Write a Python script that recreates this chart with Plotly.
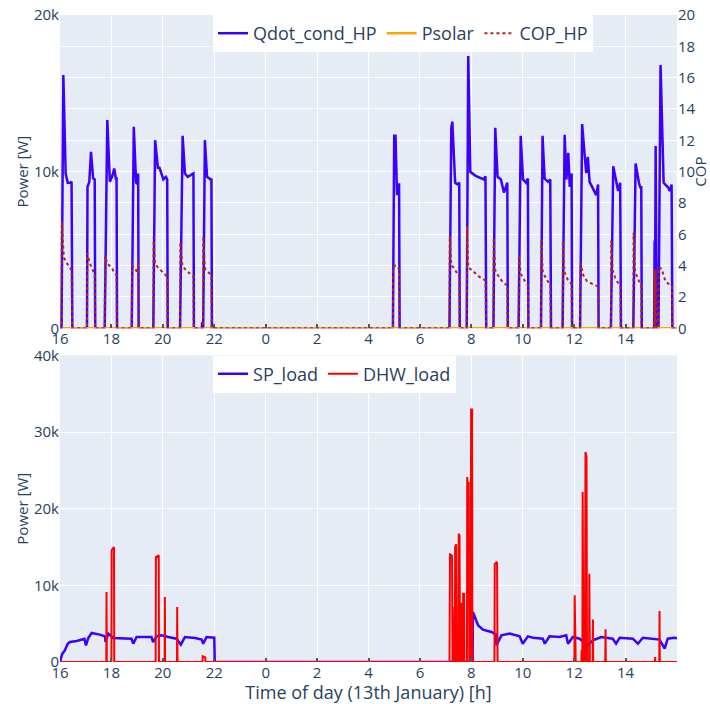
import plotly.graph_objects as go
from plotly.subplots import make_subplots

# ---------------- data (hours since 0:00 of 12th; 24+ = next day) ----------------
tick_hours = [16, 18, 20, 22, 24, 26, 28, 30, 32, 34, 36, 38]
tick_labels = ["16", "18", "20", "22", "0", "2", "4", "6", "8", "10", "12", "14"]

qdot_t = [16.0, 16.06, 16.13, 16.22, 16.30, 16.40, 16.45, 16.48,
          17.05, 17.07, 17.14, 17.205, 17.29, 17.35, 17.37,
          17.74, 17.84, 17.94, 18.03, 18.11, 18.17, 18.20, 18.22,
          18.79, 18.87, 18.96, 19.02, 19.04, 19.06,
          19.63, 19.70, 19.81, 19.86, 20.02, 20.12, 20.17, 20.19,
          20.67, 20.77, 20.86, 20.97, 21.15, 21.19, 21.21,
          21.52, 21.53, 21.55, 21.57, 21.635, 21.72, 21.86, 21.89, 21.91,
          28.95, 29.00, 29.05, 29.11, 29.16, 29.19, 29.21,
          31.15, 31.22, 31.26, 31.37, 31.45, 31.50, 31.53, 31.55,
          31.82, 31.88, 31.96, 32.15, 32.30, 32.48, 32.55, 32.58,
          32.86, 32.93, 33.02, 33.15, 33.27, 33.38, 33.40, 33.42,
          33.84, 33.92, 34.01, 34.13, 34.20, 34.22,
          34.71, 34.77, 34.85, 34.98, 35.07, 35.10,
          35.55, 35.63, 35.70, 35.77, 35.83, 35.90, 35.92,
          36.23, 36.31, 36.40, 36.47, 36.53, 36.60, 36.86, 36.93, 36.95,
          37.43, 37.52, 37.66, 37.71, 37.79, 37.82,
          38.30, 38.39, 38.52, 38.57, 38.61, 38.63,
          39.11, 39.13, 39.14, 39.17, 39.21, 39.28, 39.36, 39.48, 39.65, 39.72, 39.79, 39.82, 40.0]
qdot_w = [0, 0, 16170, 9880, 9290, 9290, 9350, 0,
          0, 9030, 9350, 11270, 9560, 9500, 0,
          0, 13290, 9350, 9700, 10200, 9560, 9560, 0,
          0, 12860, 9290, 9200, 9880, 0,
          0, 12010, 10200, 10300, 9500, 9670, 9500, 0,
          0, 12290, 9880, 9670, 9880, 9880, 0,
          0, 400, 0, 0, 12010, 9670, 9500, 9500, 0,
          0, 12290, 12290, 8500, 9180, 9180, 0,
          0, 12800, 13190, 9290, 9200, 9290, 9290, 0,
          0, 17380, 9990, 9750, 9650, 9500, 9700, 0,
          0, 12800, 9670, 9500, 8660, 9290, 9290, 0,
          0, 12290, 9500, 9290, 9560, 0,
          0, 12290, 9560, 9350, 9500, 0,
          0, 12350, 9500, 11200, 9030, 9880, 0,
          0, 13040, 11200, 9900, 10950, 9350, 8500, 9180, 0,
          0, 10350, 9030, 8770, 9290, 0,
          0, 10520, 9290, 9000, 9000, 0,
          0, 5600, 0, 11630, 0, 0, 16810, 9290, 9000, 8770, 9180, 0, 0]

psolar_t = [16.0, 40.0]
psolar_w = [0, 0]

cop_t = [16.0, 16.06, 16.07, 16.15, 16.25, 16.45, 16.47,
         17.05, 17.06, 17.15, 17.35, 17.36,
         17.74, 17.75, 17.85, 18.00, 18.10, 18.20, 18.21,
         18.79, 18.80, 18.90, 19.02, 19.04, 19.05,
         19.63, 19.64, 19.70, 19.80, 20.00, 20.17, 20.18,
         20.67, 20.68, 20.76, 20.90, 21.10, 21.19, 21.20,
         21.56, 21.57, 21.64, 21.75, 21.89, 21.90,
         28.95, 28.96, 29.05, 29.19, 29.20,
         31.15, 31.16, 31.22, 31.30, 31.45, 31.53, 31.54,
         31.82, 31.83, 31.88, 32.10, 32.30, 32.55, 32.57,
         32.86, 32.87, 32.93, 33.10, 33.25, 33.40, 33.41,
         33.84, 33.85, 33.92, 34.05, 34.20, 34.21,
         34.71, 34.72, 34.78, 34.90, 35.07, 35.09,
         35.55, 35.56, 35.62, 35.75, 35.90, 35.91,
         36.23, 36.24, 36.35, 36.50, 36.70, 36.94, 36.95,
         37.43, 37.44, 37.50, 37.60, 37.80, 37.81,
         38.30, 38.31, 38.37, 38.45, 38.61, 38.62,
         39.11, 39.12, 39.14, 39.17, 39.21, 39.28, 39.29, 39.40, 39.55, 39.81, 39.82, 40.0]
cop_v = [0, 0, 6.8, 4.5, 4.2, 3.7, 0,
         0, 4.8, 4.2, 3.4, 0,
         0, 4.6, 4.1, 3.9, 3.6, 3.4, 0,
         0, 4.0, 3.9, 3.5, 4.4, 0,
         0, 5.8, 4.1, 3.9, 3.6, 3.3, 0,
         0, 5.5, 4.0, 3.7, 3.4, 3.3, 0,
         0, 5.9, 3.8, 3.6, 3.4, 0,
         0, 3.9, 4.0, 3.8, 0,
         0, 5.9, 4.0, 3.9, 3.5, 3.3, 0,
         0, 6.5, 3.9, 3.6, 3.3, 3.05, 0,
         0, 5.8, 3.7, 3.2, 2.9, 2.75, 0,
         0, 4.7, 3.5, 3.1, 2.75, 0,
         0, 5.6, 3.6, 3.2, 2.75, 0,
         0, 5.6, 3.6, 3.1, 2.8, 0,
         0, 4.2, 3.4, 3.0, 2.85, 2.65, 0,
         0, 5.6, 3.7, 3.2, 2.65, 0,
         0, 6.1, 3.6, 3.3, 2.65, 0,
         0, 3.7, 0, 3.8, 0, 0, 3.9, 3.8, 3.0, 2.65, 0, 0]

sp_t = [16.0, 16.08, 16.19, 16.30, 16.39, 16.65, 16.95, 17.01, 17.10, 17.23, 17.55, 17.75,
        17.77, 17.88, 18.07, 18.78, 18.85, 18.98, 19.56, 19.62, 19.76, 19.95, 20.21, 20.53,
        20.70, 20.86, 21.25, 21.51, 21.57, 21.70, 22.00, 22.02,
        32.05, 32.06, 32.26, 32.45, 32.78, 32.95, 32.98, 33.17, 33.49, 33.88, 34.00, 34.20,
        34.40, 34.78, 34.86, 35.04, 35.43, 35.69, 35.76, 35.95, 36.21, 36.53, 36.73, 37.05,
        37.50, 37.63, 37.77, 38.28, 38.48, 38.67, 39.32, 39.52, 39.64, 39.90, 40.0]
sp_w = [0, 1000, 1530, 2390, 2610, 2740, 3040, 2170, 3130, 3790, 3570, 3350,
        2610, 3700, 3130, 3040, 2390, 3260, 3260, 2610, 3350, 3480, 3260, 3040,
        2260, 3260, 3130, 2920, 2390, 3260, 3170, 0,
        0, 6530, 4790, 4220, 3920, 3610, 2180, 3480, 3700, 3350, 2390, 3350,
        3170, 3040, 2390, 3350, 3260, 3480, 2390, 3260, 3040, 2180, 2830, 3260,
        3040, 2390, 3170, 3040, 2390, 3170, 2920, 1740, 3040, 3170, 3100]

dhw_t = [16.0, 17.80, 17.81, 17.82, 18.00, 18.01, 18.10, 18.11,
         19.72, 19.73, 19.84, 19.85, 20.07, 20.08, 20.09, 20.55, 20.56, 20.57,
         21.54, 21.55, 21.65, 21.66,
         31.15, 31.17, 31.25, 31.27, 31.28, 31.30, 31.36, 31.37, 31.41, 31.43,
         31.50, 31.51, 31.54, 31.56, 31.57, 31.62, 31.63, 31.67, 31.68, 31.72, 31.73,
         31.83, 31.84, 31.87, 31.90, 31.92, 31.98, 31.99, 32.03, 32.04,
         32.90, 32.91, 33.00, 33.02,
         36.01, 36.02, 36.05, 36.06, 36.28, 36.29, 36.32, 36.33, 36.36,
         36.42, 36.44, 36.48, 36.50, 36.58, 36.59, 36.61, 36.72, 36.73, 36.74,
         37.21, 37.22, 37.23, 39.14, 39.15, 39.16, 39.31, 39.32, 39.33, 40.0]
dhw_w = [0, 0, 9140, 0, 0, 14600, 15000, 0,
         0, 13700, 13920, 0, 0, 8480, 0, 0, 7180, 0,
         0, 740, 600, 0,
         0, 14050, 13900, 0, 7180, 0, 0, 15000, 15360, 0,
         0, 16750, 16500, 0, 7610, 7610, 0, 0, 8920, 8900, 0,
         0, 24140, 22000, 23480, 0, 0, 32940, 32940, 0,
         0, 12800, 13050, 0,
         0, 8700, 2830, 0, 0, 1600, 0, 22180, 0,
         0, 27400, 26750, 0, 0, 11530, 0, 0, 5530, 0,
         0, 4270, 0, 0, 650, 0, 0, 6660, 0, 0]

# ---------------- figure ----------------
BLUE = "#3c00ff"
fig = make_subplots(rows=2, cols=1, specs=[[{"secondary_y": True}], [{}]])

fig.add_trace(go.Scatter(x=qdot_t, y=qdot_w, mode="lines", name="Qdot_cond_HP",
                         line=dict(color=BLUE, width=2.5)), row=1, col=1)
fig.add_trace(go.Scatter(x=psolar_t, y=psolar_w, mode="lines", name="Psolar",
                         line=dict(color="orange", width=2.5)), row=1, col=1)
fig.add_trace(go.Scatter(x=cop_t, y=cop_v, mode="lines", name="COP_HP",
                         line=dict(color="firebrick", width=2, dash="dot")),
              row=1, col=1, secondary_y=True)
fig.add_trace(go.Scatter(x=sp_t, y=sp_w, mode="lines", name="SP_load", legend="legend2",
                         line=dict(color=BLUE, width=2.5)), row=2, col=1)
fig.add_trace(go.Scatter(x=dhw_t, y=dhw_w, mode="lines", name="DHW_load", legend="legend2",
                         line=dict(color="red", width=2)), row=2, col=1)

xcommon = dict(domain=[0.0, 1.0], range=[16, 40], tickmode="array", tickvals=tick_hours,
               ticktext=tick_labels, tickfont=dict(size=15), ticks="inside", ticklen=4,
               tickwidth=2, tickcolor="#555", showline=False, zeroline=False, automargin=False)
fig.update_xaxes(**xcommon)
fig.update_xaxes(title=dict(text="Time of day (13th January) [h]", font=dict(size=18), standoff=3),
                 row=2, col=1)

ycommon = dict(tickfont=dict(size=15), zeroline=False, automargin=False)
fig.update_layout(
    width=710, height=704,
    margin=dict(l=60, r=33, t=15, b=42, autoexpand=False),
    font=dict(family="Open Sans, verdana, arial, sans-serif", size=14, color="#2a3f5f"),
    plot_bgcolor="#E5ECF6",
    paper_bgcolor="white",
    yaxis=dict(domain=[0.5158, 1.0], range=[0, 20000], dtick=10000, tickformat="~s",
               title=dict(text="Power [W]", font=dict(size=15), standoff=1), **ycommon),
    yaxis2=dict(range=[0, 20], dtick=2, title=dict(text="COP", font=dict(size=15), standoff=6),
                showgrid=True, gridcolor="white", **ycommon),
    yaxis3=dict(domain=[0.0, 0.4737], range=[0, 40000], dtick=10000, tickformat="~s",
                title=dict(text="Power [W]", font=dict(size=15), standoff=1), **ycommon),
    legend=dict(orientation="h", x=0.248, xanchor="left", y=1.0, yanchor="top",
                bgcolor="white", font=dict(size=18)),
    legend2=dict(orientation="h", x=0.248, xanchor="left", y=0.4737, yanchor="top",
                 bgcolor="white", font=dict(size=18)),
)

fig.write_html("out.html", config={"responsive": False, "displayModeBar": False},
               post_script="document.body.style.margin='0';document.body.style.overflow='hidden';")
